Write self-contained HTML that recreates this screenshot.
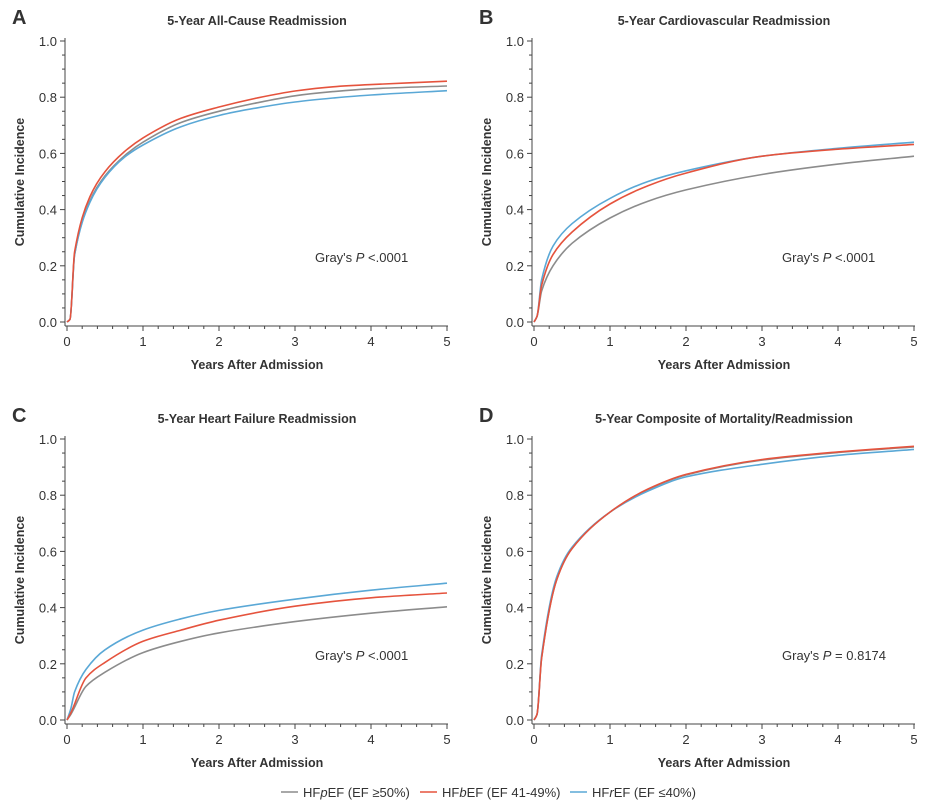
<!DOCTYPE html>
<html><head><meta charset="utf-8"><style>
body{margin:0;background:#fff;width:932px;height:803px;overflow:hidden}
svg text{font-family:"Liberation Sans",sans-serif;fill:#333}
</style></head><body>
<svg id="s" width="932" height="803" xmlns="http://www.w3.org/2000/svg"></svg>
<script>
const S=document.getElementById('s');let h='';
const C={g:'#8c8c8c',r:'#e5533d',b:'#5aa8d6'};
const panels=[
{L:'A',T:'5-Year All-Cause Readmission',dx:0,dy:0,p:"Gray's <tspan font-style='italic'>P</tspan> &lt;.0001",px:315,py:262,
 s:{g:[[0,0],[.04,.01],[.1,.24],[.3,.43],[.5,.52],[.75,.59],[1,.64],[1.5,.71],[2,.75],[2.5,.78],[3,.805],[3.5,.82],[4,.83],[5,.84]],
    r:[[0,0],[.04,.01],[.1,.25],[.3,.445],[.5,.535],[.75,.605],[1,.655],[1.5,.725],[2,.765],[2.5,.797],[3,.822],[3.5,.837],[4,.845],[5,.857]],
    b:[[0,0],[.04,.01],[.1,.24],[.3,.425],[.5,.515],[.75,.585],[1,.63],[1.5,.695],[2,.735],[2.5,.762],[3,.783],[3.5,.797],[4,.808],[5,.823]]}},
{L:'B',T:'5-Year Cardiovascular Readmission',dx:467,dy:0,p:"Gray's <tspan font-style='italic'>P</tspan> &lt;.0001",px:315,py:262,
 s:{g:[[0,0],[.04,.02],[.1,.11],[.25,.2],[.5,.28],[1,.37],[1.5,.43],[2,.47],[3,.525],[4,.562],[5,.59]],
    r:[[0,0],[.04,.02],[.1,.13],[.25,.24],[.5,.32],[1,.42],[1.5,.485],[2,.53],[3,.59],[4,.615],[5,.632]],
    b:[[0,0],[.04,.02],[.1,.15],[.25,.27],[.5,.35],[1,.44],[1.5,.5],[2,.538],[3,.59],[4,.618],[5,.64]]}},
{L:'C',T:'5-Year Heart Failure Readmission',dx:0,dy:398,p:"Gray's <tspan font-style='italic'>P</tspan> &lt;.0001",px:315,py:262,
 s:{g:[[0,0],[.05,.02],[.25,.12],[.5,.17],[1,.24],[1.5,.28],[2,.31],[3,.35],[4,.38],[5,.403]],
    r:[[0,0],[.05,.025],[.25,.15],[.5,.205],[1,.28],[1.5,.32],[2,.355],[3,.405],[4,.435],[5,.452]],
    b:[[0,0],[.05,.04],[.1,.1],[.25,.18],[.5,.25],[1,.32],[1.5,.36],[2,.39],[3,.43],[4,.462],[5,.487]]}},
{L:'D',T:'5-Year Composite of Mortality/Readmission',dx:467,dy:398,p:"Gray's <tspan font-style='italic'>P</tspan> = 0.8174",px:315,py:262,
 s:{g:[[0,0],[.04,.02],[.1,.22],[.3,.5],[.5,.61],[1,.74],[1.5,.82],[2,.872],[3,.925],[4,.952],[5,.972]],
    r:[[0,0],[.04,.02],[.1,.22],[.3,.5],[.5,.61],[1,.74],[1.5,.822],[2,.874],[3,.927],[4,.954],[5,.974]],
    b:[[0,0],[.04,.02],[.1,.23],[.3,.51],[.5,.615],[1,.74],[1.5,.815],[2,.865],[3,.91],[4,.942],[5,.963]]}}];
function mono(p){const n=p.length,dl=[],m=[];
 for(let i=0;i<n-1;i++)dl.push((p[i+1][1]-p[i][1])/(p[i+1][0]-p[i][0]));
 m[0]=dl[0];m[n-1]=dl[n-2];
 for(let i=1;i<n-1;i++){m[i]=dl[i-1]*dl[i]<=0?0:2/(1/dl[i-1]+1/dl[i]);}
 let d='M'+p[0][0].toFixed(1)+','+p[0][1].toFixed(1);
 for(let i=0;i<n-1;i++){const hx=(p[i+1][0]-p[i][0])/3;
  d+=`C${(p[i][0]+hx).toFixed(1)},${(p[i][1]+m[i]*hx).toFixed(1)} ${(p[i+1][0]-hx).toFixed(1)},${(p[i+1][1]-m[i+1]*hx).toFixed(1)} ${p[i+1][0].toFixed(1)},${p[i+1][1].toFixed(1)}`;}
 return d;}
for(const P of panels){const x0=67+P.dx,x1=447+P.dx,y0=322+P.dy,y1=41+P.dy,ax=65+P.dx,ay=326+P.dy;
 const X=t=>x0+(x1-x0)*t/5,Y=v=>y0+(y1-y0)*v;
 h+=`<text x="${12+P.dx}" y="${24+P.dy}" font-size="20" font-weight="bold">${P.L}</text>`;
 h+=`<text x="${257+P.dx}" y="${25+P.dy}" font-size="12.5" font-weight="bold" text-anchor="middle">${P.T}</text>`;
 h+=`<line x1="${ax}" y1="${y1-3}" x2="${ax}" y2="${ay}" stroke="#444" stroke-width="1"/><line x1="${ax}" y1="${ay}" x2="${x1+1}" y2="${ay}" stroke="#444"/>`;
 for(let i=0;i<=20;i++){const y=Y(i/20),len=i%4==0?5:3;h+=`<line x1="${ax-len}" y1="${y}" x2="${ax}" y2="${y}" stroke="#444"/>`;
  if(i%4==0)h+=`<text x="${57+P.dx}" y="${y+5}" font-size="13" text-anchor="end">${(i/20).toFixed(1)}</text>`;}
 for(let i=0;i<=25;i++){const x=X(i/5),len=i%5==0?5:3;h+=`<line x1="${x}" y1="${ay}" x2="${x}" y2="${ay+len}" stroke="#444"/>`;
  if(i%5==0)h+=`<text x="${x}" y="${ay+20}" font-size="13" text-anchor="middle">${i/5}</text>`;}
 h+=`<text x="${257+P.dx}" y="${369+P.dy}" font-size="12.5" font-weight="bold" text-anchor="middle">Years After Admission</text>`;
 h+=`<text transform="translate(${24+P.dx},${182+P.dy}) rotate(-90)" font-size="12.5" font-weight="bold" text-anchor="middle">Cumulative Incidence</text>`;
 h+=`<text x="${P.px+P.dx}" y="${P.py+P.dy}" font-size="13">${P.p}</text>`;
 for(const k of ['g','b','r'])h+=`<path d="${mono(P.s[k].map(q=>[X(q[0]),Y(q[1])]))}" fill="none" stroke="${C[k]}" stroke-width="1.6"/>`;}
const lg=[['g',281,'HF<tspan font-style="italic">p</tspan>EF (EF ≥50%)'],['r',420,'HF<tspan font-style="italic">b</tspan>EF (EF 41-49%)'],['b',570,'HF<tspan font-style="italic">r</tspan>EF (EF ≤40%)']];
for(const [k,x,t] of lg){h+=`<line x1="${x}" y1="792" x2="${x+17}" y2="792" stroke="${C[k]}" stroke-width="1.6"/><text x="${x+22}" y="797" font-size="13">${t}</text>`;}
S.innerHTML=h;
</script>
</body></html>
